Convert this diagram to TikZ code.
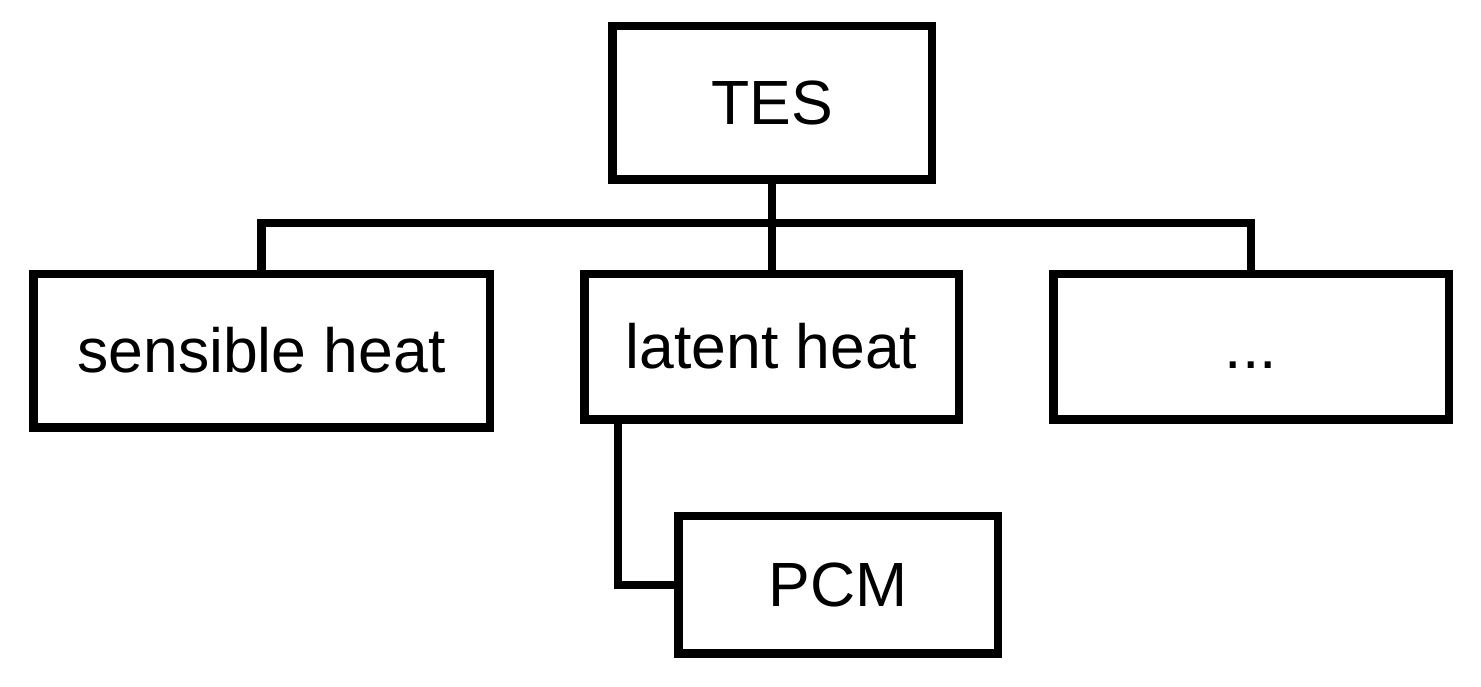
\documentclass[tikz,border=0pt]{standalone}
\usepackage{fontspec}
\setmainfont{Liberation Sans}
\begin{document}
\begin{tikzpicture}[x=1pt,y=1pt,
  box/.style={draw=black, line width=8.5pt, inner sep=0pt, text height=43pt, text depth=0pt,
    font=\fontsize{62.5}{74}\selectfont},
  conn/.style={draw=black, line width=8.5pt, line join=miter}]
\useasboundingbox (0,0) rectangle (1481,687);
\node[box, minimum width=319.5pt, minimum height=153.5pt] (tes) at (772,584) {TES};
\node[box, minimum width=456.5pt, minimum height=153.5pt] (sens) at (261.5,336) {sensible heat};
\node[box, minimum width=374.5pt, minimum height=145.5pt] (lat) at (771.5,340) {latent heat};
\node[box, minimum width=395.5pt, minimum height=145.5pt] (dots) at (1251,340) {...};
\node[box, minimum width=319.5pt, minimum height=137.5pt] (pcm) at (838,102) {PCM};
\draw[conn] (sens.north) -- ++(0,46.75) -| (dots.north);
\draw[conn] (tes.south) -- (tes.south |- lat.north);
\draw[conn] ([xshift=37.75pt]lat.south west) |- (pcm.west);
\end{tikzpicture}
\end{document}
